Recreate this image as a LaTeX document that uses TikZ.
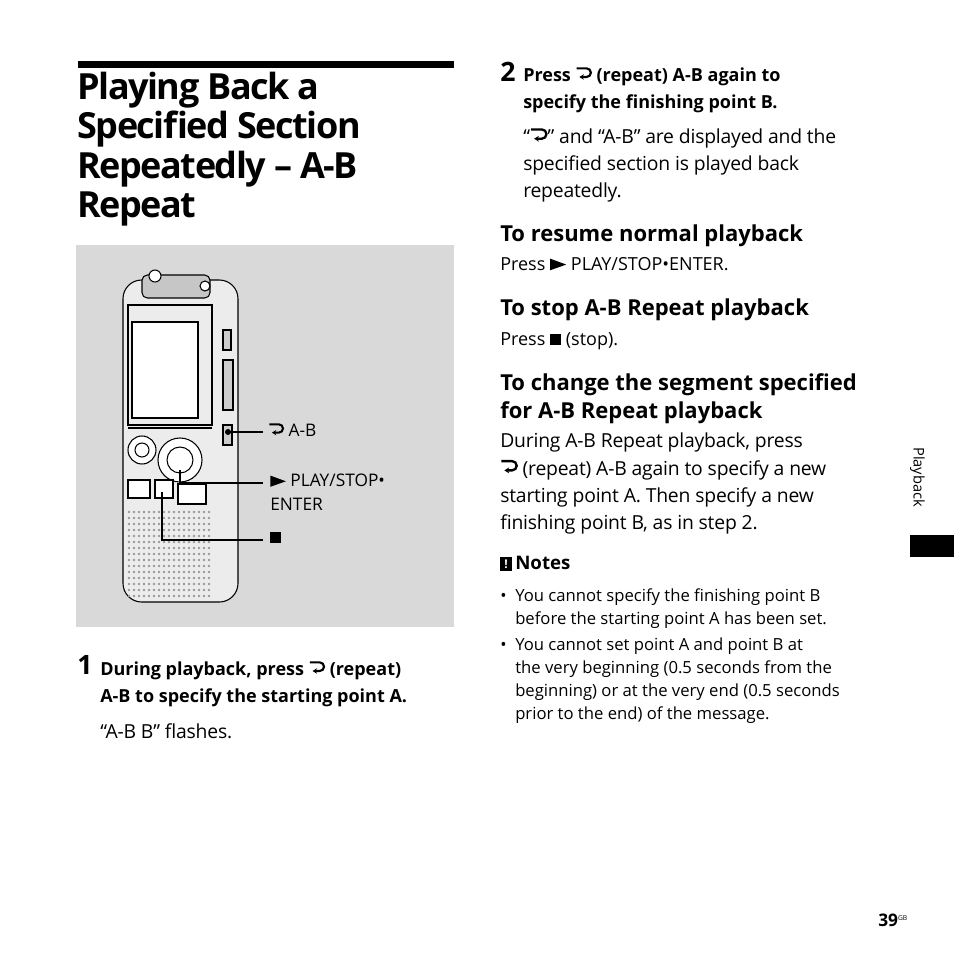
\documentclass[tikz,border=0pt]{standalone}
\usepackage{fontspec}
\setmainfont{Open Sans}
\usetikzlibrary{arrows.meta}
\newcommand\rpt{\tikz[baseline=-0.1em,x=1em,y=1em]{\draw[line width=0.12em,-{Stealth[length=0.25em,width=0.3em]}] (0,0.62)--(0.55,0.62) arc(90:-90:0.24) -- (0.15,0.14);}}
\newcommand\ply{\tikz[baseline=0em,x=1em,y=1em]\fill (0,0)--(0,0.65)--(0.9,0.32)--cycle;}
\newcommand\stp{\tikz[baseline=0em,x=1em,y=1em]\fill (0,0) rectangle (0.62,0.62);}
\tikzset{
 txt/.style={anchor=north west,inner sep=0pt,align=left,font=\fontsize{14.5}{20.3}\selectfont\addfontfeatures{LetterSpace=-1}},
 hd/.style={anchor=north west,inner sep=0pt,align=left,font=\fontsize{16.5}{21}\selectfont\bfseries},
 st/.style={anchor=north west,inner sep=0pt,align=left,font=\fontsize{13.5}{20.3}\selectfont\bfseries},
 nt/.style={anchor=north west,inner sep=0pt,align=left,font=\fontsize{12.5}{17.3}\selectfont},
 lead/.style={line width=1.6pt}
}
\begin{document}
\begin{tikzpicture}[x=0.75pt,y=-0.75pt]
\useasboundingbox (0,0) rectangle (954,954);
\fill (78,61) rectangle (454,68);
\node[anchor=north west,inner sep=0pt,align=left,font=\fontsize{27}{29.5}\selectfont\bfseries\addfontfeatures{LetterSpace=-4}] (title) at (77,72) {Playing Back a\\Specified Section\\Repeatedly – A-B\\Repeat};
\fill[gray!30] (76,245) rectangle (454,627);
\begin{scope}[line width=0.8pt]
\draw[fill=gray!15,rounded corners=14] (123,280) rectangle (238,602);
\draw[fill=gray!45,rounded corners=4] (142,275) rectangle (210,298);
\draw[fill=white] (155,276) circle (6); \draw[fill=white] (205,286) circle (5);
\draw[fill=white] (132,322) rectangle (198,418);
\draw (128,305) rectangle (212,425);
\draw[fill=gray!40] (223,330) rectangle (231,350);
\draw[fill=gray!40] (223,360) rectangle (233,410);
\draw[fill=gray!40] (223,425) rectangle (232,445);
\draw (128,428) -- (212,428);
\draw[fill=white] (142,450) circle (14); \draw (142,450) circle (7);
\draw[fill=white] (180,460) circle (22); \draw (180,460) circle (13);
\draw[fill=white] (128,480) rectangle (150,498);
\draw[fill=white] (155,480) rectangle (173,498);
\draw[fill=white] (178,484) rectangle (206,504);
\foreach \yy in {512,518,...,596}{\foreach \xx in {129,134,...,210}{\fill[gray!80] (\xx,\yy) circle (1.4);}}
\end{scope}
\fill (228,432) circle (3);
\draw[lead] (228,432) -- (263,432);
\draw[lead] (180,470) -- (180,483) -- (263,483);
\draw[lead] (162,492) -- (162,540) -- (263,540);
\node[txt,font=\fontsize{13}{18}\selectfont] (ab) at (268,423) {\rpt\ A-B};
\node[txt,font=\fontsize{13}{18}\selectfont] (pl) at (270,474) {\ply\ PLAY/STOP•\\ENTER};
\node[txt,font=\fontsize{13}{18}\selectfont] (sp) at (270,532) {\stp};
\node[anchor=north west,inner sep=0pt,font=\fontsize{20}{20}\selectfont\bfseries] (n1) at (77,655) {1};
\node[st] (s1) at (100,661) {During playback, press \rpt\ (repeat)\\A-B to specify the starting point A.};
\node[txt] (t1) at (100,723) {“A-B B” flashes.};
\node[anchor=north west,inner sep=0pt,font=\fontsize{20}{20}\selectfont\bfseries] (n2) at (500,62) {2};
\node[st] (s2) at (523,67) {Press \rpt\ (repeat) A-B again to\\specify the finishing point B.};
\node[txt] (t2) at (523,128) {“\rpt” and “A-B” are displayed and the\\specified section is played back\\repeatedly.};
\node[hd] (h1) at (500,225) {To resume normal playback};
\node[nt,font=\fontsize{13.5}{18}\selectfont] (p1) at (500,257) {Press \ply\ PLAY/STOP•ENTER.};
\node[hd] (h2) at (500,299) {To stop A-B Repeat playback};
\node[nt,font=\fontsize{13.5}{18}\selectfont] (p2) at (500,332) {Press \stp\ (stop).};
\node[hd] (h3) at (500,373) {To change the segment specified\\for A-B Repeat playback};
\node[txt] (p3) at (500,433) {During A-B Repeat playback, press\\\rpt\ (repeat) A-B again to specify a new\\starting point A. Then specify a new\\finishing point B, as in step 2.};
\fill (500,557) rectangle (512,571);
\node[white,inner sep=0pt,font=\fontsize{9}{9}\selectfont\bfseries] (ic) at (506,564) {!};
\node[anchor=north west,inner sep=0pt,font=\fontsize{14}{17}\selectfont\bfseries] (notes) at (515,556) {Notes};
\node[nt] (b1) at (500,585) {\strut\textbullet};
\node[nt] (n1t) at (515,585) {\strut You cannot specify the finishing point B\\before the starting point A has been set.};
\node[nt] (b2) at (500,634) {\strut\textbullet};
\node[nt] (n2t) at (515,634) {\strut You cannot set point A and point B at\\the very beginning (0.5 seconds from the\\beginning) or at the very end (0.5 seconds\\prior to the end) of the message.};
\node[rotate=-90,anchor=north west,inner sep=0pt,font=\fontsize{11}{11}\selectfont] (side) at (925,447) {Playback};
\fill (910,535) rectangle (954,557);
\node[anchor=base west,inner sep=0pt,font=\fontsize{13}{13}\selectfont\bfseries] (pg) at (878,926) {39\raisebox{0.6ex}{\fontsize{5}{5}\selectfont\mdseries GB}};
\end{tikzpicture}
\end{document}
